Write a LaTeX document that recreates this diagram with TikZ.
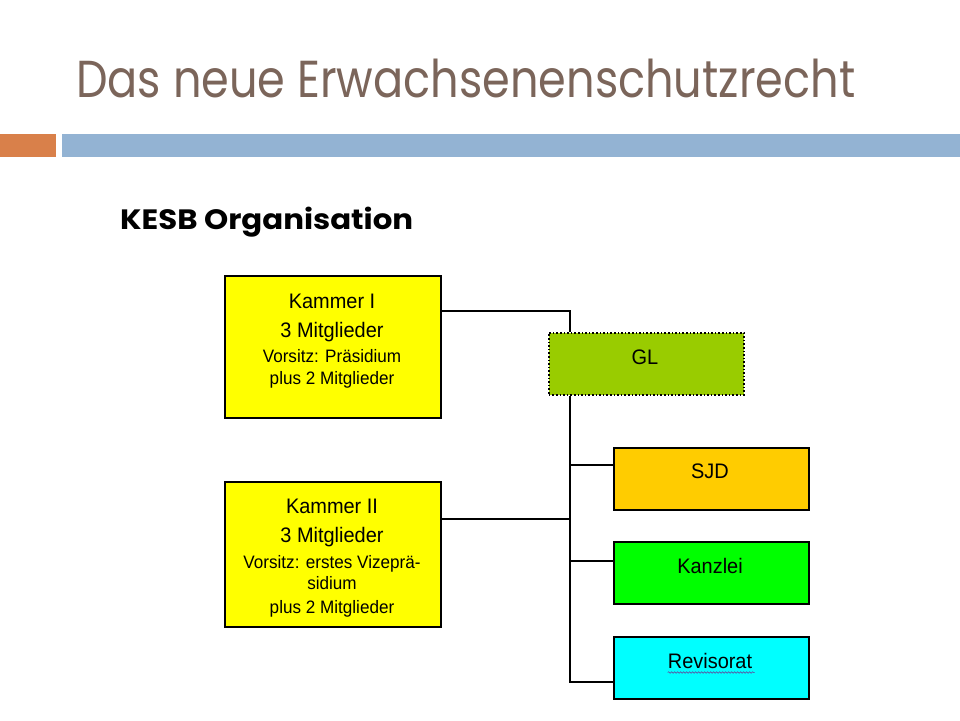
\documentclass[tikz,border=0pt]{standalone}
\usepackage{fontspec}
\usetikzlibrary{decorations.pathmorphing}
\newfontfamily\titlefont[FakeStretch=0.858]{Poppins}
\newfontfamily\subfont[FakeStretch=1.1]{Poppins}
\newfontfamily\boxfont[FakeStretch=0.95]{Liberation Sans}
\definecolor{titlecol}{HTML}{7B655A}
\definecolor{barorange}{HTML}{D9804A}
\definecolor{barblue}{HTML}{93B3D3}
\definecolor{kyellow}{HTML}{FFFF00}
\definecolor{glgreen}{HTML}{99CC00}
\definecolor{sjdorange}{HTML}{FFCC00}
\definecolor{kgreen}{HTML}{00FF00}
\definecolor{rcyan}{HTML}{00FFFF}
\tikzset{
  orgbox/.style={draw=black, line width=1.6pt, inner sep=0pt, anchor=north west},
  big/.style={font=\boxfont\fontsize{21}{24}\selectfont, anchor=base, inner sep=0pt},
  small/.style={font=\boxfont\fontsize{18}{20}\selectfont, anchor=base, inner sep=0pt},
  conn/.style={draw=black, line width=1.5pt}
}
\begin{document}
\begin{tikzpicture}[x=1pt,y=-1pt]
\useasboundingbox (0,0) rectangle (960,720);
\fill[white] (0,0) rectangle (960,720);
% title
\node[anchor=base west, inner sep=0pt, text=titlecol, font=\titlefont\fontsize{52}{56}\selectfont] (title) at (76,97) {Das neue Erwachsenenschutzrecht};
\fill[barorange] (0,134) rectangle (56,157);
\fill[barblue] (62,134) rectangle (960,157);
\node[anchor=base west, inner sep=0pt, font=\subfont\bfseries\fontsize{28}{30}\selectfont] (sub) at (120,229) {KESB Organisation};
% boxes
\node[orgbox, fill=kyellow, minimum width=216pt, minimum height=142pt] (k1) at (224,275) {};
\node[orgbox, fill=kyellow, minimum width=216pt, minimum height=145pt] (k2) at (224,481) {};
\node[orgbox, fill=glgreen, draw=black, dotted, minimum width=195pt, minimum height=62pt] (gl) at (548,332) {};
\node[orgbox, fill=sjdorange, minimum width=195pt, minimum height=62pt] (sjd) at (613,447) {};
\node[orgbox, fill=kgreen, minimum width=195pt, minimum height=62pt] (kanz) at (613,541) {};
\node[orgbox, fill=rcyan, minimum width=195pt, minimum height=62pt] (rev) at (613,636) {};
% texts
\node[big] (k1a) at (332,308) {Kammer I};
\node[big] (k1b) at (332,337) {3 Mitglieder};
\node[small] (k1c) at (332,362) {Vorsitz: Präsidium};
\node[small] (k1d) at (332,384) {plus 2 Mitglieder};
\node[big] (k2a) at (332,513) {Kammer II};
\node[big] (k2b) at (332,542) {3 Mitglieder};
\node[small] (k2c) at (332,568) {Vorsitz: erstes Vizeprä-};
\node[small] (k2d) at (332,589) {sidium};
\node[small] (k2e) at (332,613) {plus 2 Mitglieder};
\node[big] (glt) at (645,364) {GL};
\node[big] (sjdt) at (710,478) {SJD};
\node[big] (kanzt) at (710,573) {Kanzlei};
\node[big] (revt) at (710,668) {Revisorat};
\draw[gray!70!blue, line width=0.6pt, decorate, decoration={snake, amplitude=0.8pt, segment length=3pt}] (revt.base west) ++(0,4.5) -- ++(87,0);
% connectors
\coordinate (j1) at (570,311);
\coordinate (j2) at (570,519);
\coordinate (jb) at (570,682);
\draw[conn] (k1.east |- j1) -- (j1) -- (j1 |- gl.north);
\draw[conn] (j1 |- gl.south) -- (jb) -- (jb -| rev.west);
\draw[conn] (k2.east |- j2) -- (j2);
\draw[conn] (570,465) coordinate (js) -- (js -| sjd.west);
\draw[conn] (570,561) coordinate (jk) -- (jk -| kanz.west);
\end{tikzpicture}
\end{document}
